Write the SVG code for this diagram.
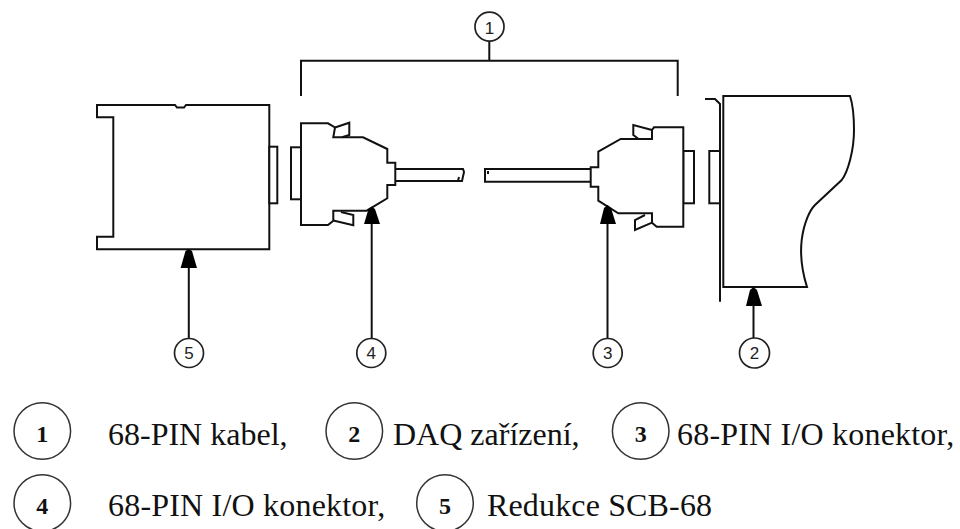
<svg xmlns="http://www.w3.org/2000/svg" width="960" height="529" viewBox="0 0 960 529">
<defs>
<style>
.l{fill:none;stroke:#111;stroke-width:2}
.f{fill:#fff;stroke:#111;stroke-width:2}
.h{fill:#000}
.c{fill:#fff;stroke:#222;stroke-width:1.700}
.lc{fill:#fff;stroke:#333;stroke-width:1.500}
.n{font-family:"Liberation Sans",Arial,sans-serif;font-size:17px;fill:#222;text-anchor:middle}
.b{font-family:"Liberation Serif","Times New Roman",serif;font-size:24px;font-weight:bold;fill:#111;text-anchor:middle}
.t{font-family:"Liberation Serif","Times New Roman",serif;font-size:32px;fill:#111}
.w{letter-spacing:.2px}
.x{letter-spacing:.15px}
</style>
</defs>
<rect width="960" height="529" fill="#fff"/>
<g id="node-redukce">
<path class="f" d="M97 105H175L177 107.500H184L186 105H269.300V249.300H97V236.700H113.300V117.300H97Z"/>
<rect class="f" x="269.300" y="146.700" width="8" height="56.600"/>
</g>
<g id="node-konektor-4">
<path class="l" d="M395.300 169H463L464 172L462 181H395.300M458 181L459 177"/>
<rect class="f" x="291" y="147.300" width="10" height="52"/>
<path class="f" d="M301 123.300H328L335 127.500L333.300 137.300H363L387.300 149V162.700H395.300V185H387.300V198.300L366.700 210.700H333.300V220.700L328 225H301Z"/>
<path class="l" d="M335 127.500L349.300 122.700V135L342 137.300M333.300 220.500L353.300 225.300V215L341 212"/>
</g>
<g id="node-konektor-3">
<path class="l" d="M590 169H485V181.700H590M488 171V174"/>
<rect class="f" x="683.300" y="151" width="10.700" height="52.300"/>
<path class="f" d="M683.300 127.300H654L652 130V139H620.700L598.300 151.700V167.300H590.700V186.700H598.300V200.700L618.300 213.300H652V222.700L656.700 226.700H683.300Z"/>
<path class="l" d="M652 130L633.300 125V135L638 138.500M652 222.700L635 230V220L645 215"/>
</g>
<g id="node-daq">
<path class="l" d="M705 99H715L720 104V301.700"/>
<rect class="f" x="709.300" y="151" width="10.700" height="52.300"/>
<path class="l" d="M850 96H723.300V287H807C801 268 800 255 801.700 240C804 222 810 210 815 205L841.700 180C848 172 854 150 854 130C854 115 853 105 850 96Z"/>
</g>
<g id="connectors">
<path class="l" d="M301 96V60.700H677.700V96M489.300 60.700V41"/>
<path class="l" d="M188.800 340V268"/><path class="h" d="M188.800 249L192 251L197 268H180.600L185.500 251Z"/>
<path class="l" d="M371.700 340V224"/><path class="h" d="M371.700 206.700L375 209L380 224H364L368.500 209Z"/>
<path class="l" d="M607.500 340V224"/><path class="h" d="M607.500 205L611 208L616 224H600L604 208Z"/>
<path class="l" d="M753.500 338V306"/><path class="h" d="M753.500 287L757 290L762 306H746L750 290Z"/>
</g>
<g id="callout-1"><circle class="c" cx="489.500" cy="26.700" r="14.500"/><text class="n" x="489.500" y="33.500">1</text></g>
<g id="callout-5"><circle class="c" cx="189" cy="353" r="14.500"/><text class="n" x="189" y="359">5</text></g>
<g id="callout-4"><circle class="c" cx="371.300" cy="353" r="14.500"/><text class="n" x="371.300" y="359">4</text></g>
<g id="callout-3"><circle class="c" cx="607.700" cy="353" r="14.500"/><text class="n" x="607.700" y="359">3</text></g>
<g id="callout-2"><circle class="c" cx="754.500" cy="353" r="15"/><text class="n" x="754.500" y="359">2</text></g>
<g id="legend-1"><circle class="lc" cx="42.300" cy="431" r="28.300"/><text class="b" x="42.300" y="442">1</text><text class="t" x="108" y="445">68-PIN kabel,</text></g>
<g id="legend-2"><circle class="lc" cx="354.300" cy="431" r="28.300"/><text class="b" x="354.300" y="442">2</text><text class="t" x="393" y="445">DAQ zařízení,</text></g>
<g id="legend-3"><circle class="lc" cx="640.700" cy="431" r="28.300"/><text class="b" x="640.700" y="442">3</text><text class="t w" x="677" y="445">68-PIN I/O konektor,</text></g>
<g id="legend-4"><circle class="lc" cx="42.300" cy="503" r="28.300"/><text class="b" x="42.300" y="514">4</text><text class="t w" x="108" y="516">68-PIN I/O konektor,</text></g>
<g id="legend-5"><circle class="lc" cx="445" cy="503" r="28.300"/><text class="b" x="445" y="514">5</text><text class="t x" x="487" y="516">Redukce SCB-68</text></g>
</svg>
